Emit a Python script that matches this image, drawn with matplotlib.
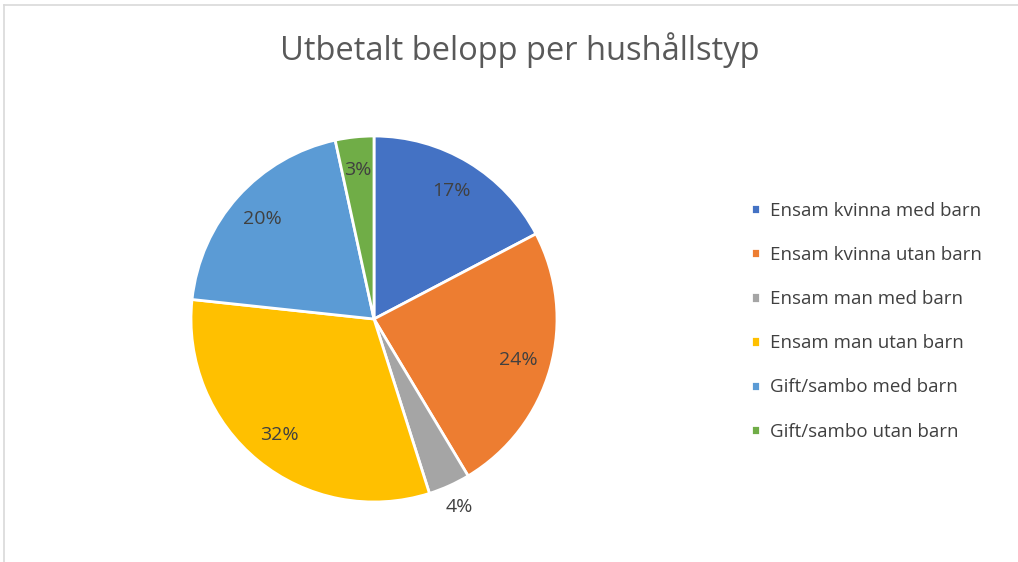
import matplotlib
matplotlib.use("Agg")
import matplotlib.pyplot as plt
from matplotlib.lines import Line2D
import numpy as np

# ---- Data ----
categories = ["Ensam kvinna med barn", "Ensam kvinna utan barn", "Ensam man med barn",
              "Ensam man utan barn", "Gift/sambo med barn", "Gift/sambo utan barn"]
shares = [17.3, 24.1, 3.7, 31.6, 19.9, 3.4]
pct_labels = ["17%", "24%", "4%", "32%", "20%", "3%"]
colors = ["#4472C4", "#ED7D31", "#A5A5A5", "#FFC000", "#5B9BD5", "#70AD47"]

plt.rcParams["font.family"] = ["Open Sans", "DejaVu Sans"]
text_col = "#404040"

W, H = 1018, 562
fig = plt.figure(figsize=(W / 100, H / 100), dpi=100)

# ---- Pie ----
cx, cy, r = 374, 319, 183
ax = fig.add_axes([(cx - r) / W, (H - cy - r) / H, 2 * r / W, 2 * r / H])
wedges, _ = ax.pie(shares, colors=colors, startangle=90, counterclock=False, radius=1,
                   wedgeprops=dict(edgecolor="white", linewidth=2))
ax.set_xlim(-1, 1)
ax.set_ylim(-1, 1)
ax.set_aspect("equal")
ax.axis("off")

# labels: inside at ~0.82r, the small grey one outside
for w, lbl in zip(wedges, pct_labels):
    ang = np.deg2rad((w.theta1 + w.theta2) / 2)
    d = 1.13 if lbl == "4%" else 0.82
    ax.text(d * np.cos(ang), d * np.sin(ang), lbl, ha="center", va="center",
            fontsize=14, color=text_col, clip_on=False)

# ---- Title ----
fig.text(520 / W, 1 - 50 / H, "Utbetalt belopp per hushållstyp", ha="center", va="center",
         fontsize=23.5, color="#595959")

# ---- Legend ----
fig.legend(wedges, categories, loc="upper left", bbox_to_anchor=(743 / W, 1 - 194 / H),
           frameon=False, fontsize=13.5, labelcolor=text_col, handlelength=0.5,
           handleheight=0.5, handletextpad=0.55, labelspacing=1.4, borderaxespad=0)

# ---- Chart border (partly visible) ----
fig.add_artist(Line2D([4 / W, 4 / W], [0, 1 - 5 / H], color="#d9d9d9", lw=1.2))
fig.add_artist(Line2D([4 / W, 1], [1 - 5 / H, 1 - 5 / H], color="#d9d9d9", lw=1.2))

fig.savefig("out.png", dpi=100)
plt.close(fig)
